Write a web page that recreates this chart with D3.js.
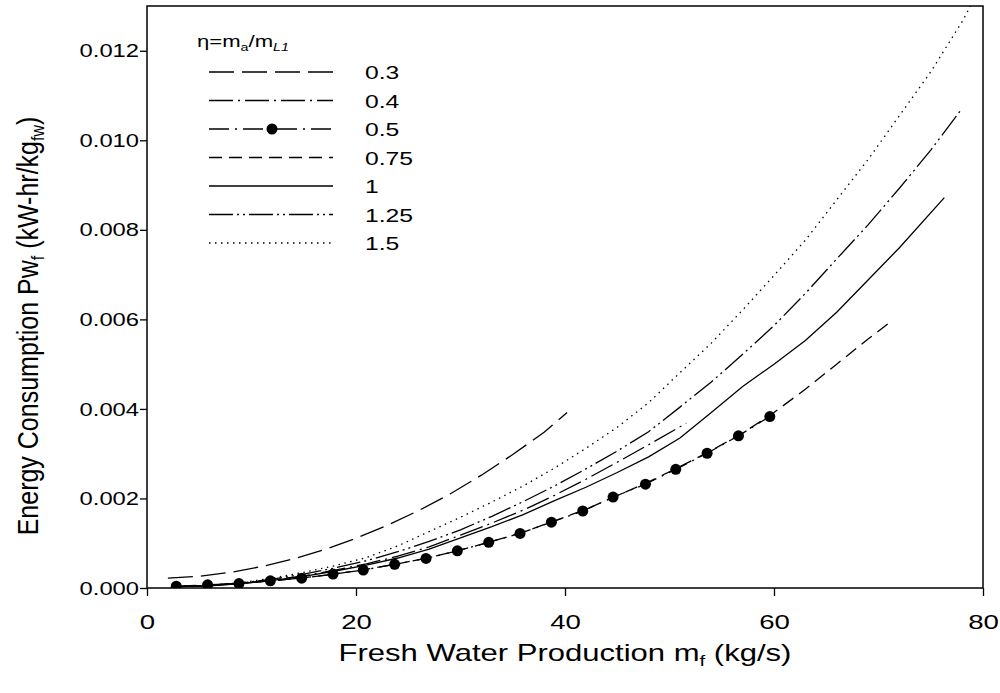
<!DOCTYPE html>
<html>
<head>
<meta charset="utf-8">
<script src="https://cdn.jsdelivr.net/npm/d3@7"></script>
<style>
  html, body { margin: 0; padding: 0; background: #fff; }
  svg { display: block; font-family: "Liberation Sans", Arial, sans-serif; }
</style>
</head>
<body>
<svg id="chart" width="1000" height="693"></svg>
<script>
// ---------- data ----------
const xTicks = [0, 20, 40, 60, 80];
const yTicks = [0, 0.002, 0.004, 0.006, 0.008, 0.010, 0.012];
const legendLabels = ["0.3", "0.4", "0.5", "0.75", "1", "1.25", "1.5"];

const x03 = [2, 5, 8, 11, 14, 17, 20, 23, 26, 29, 32, 35, 38, 40.2];
const y03 = [0.00022, 0.00026, 0.00035, 0.00048, 0.00065, 0.00086, 0.00111, 0.00140, 0.00173, 0.00210, 0.00252, 0.00298, 0.00348, 0.00392];

const x04 = [3, 6, 9, 12, 15, 18, 21, 24, 27, 30, 33, 36, 39, 42, 45, 48, 51.6];
const y04 = [0.00003, 0.00005, 0.00010, 0.00018, 0.00027, 0.00040, 0.00054, 0.00071, 0.00092, 0.00118, 0.00145, 0.00174, 0.00207, 0.00243, 0.00281, 0.00320, 0.00368];

const x05 = [2.8, 5.8, 8.8, 11.8, 14.8, 17.8, 20.7, 23.7, 26.7, 29.7, 32.7, 35.7, 38.7, 41.7, 44.6, 47.7, 50.6, 53.6, 56.6, 59.6];
const y05 = [0.00004, 0.00007, 0.00010, 0.00016, 0.00022, 0.00031, 0.00040, 0.00053, 0.00066, 0.00083, 0.00102, 0.00122, 0.00147, 0.00172, 0.00203, 0.00232, 0.00265, 0.00301, 0.00340, 0.00383];

const x075 = [3, 6, 9, 12, 15, 18, 21, 24, 27, 30, 33, 36, 39, 42, 45, 48, 51, 54, 57, 60, 63, 66, 69, 71];
const y075 = [0.00003, 0.00006, 0.00011, 0.00016, 0.00023, 0.00031, 0.00042, 0.00054, 0.00068, 0.00085, 0.00104, 0.00125, 0.00150, 0.00176, 0.00206, 0.00237, 0.00271, 0.00307, 0.00346, 0.00392, 0.00444, 0.00500, 0.00556, 0.00592];

const x1 = [3, 6, 9, 12, 15, 18, 21, 24, 27, 30, 33, 36, 39, 42, 45, 48, 51, 54, 57, 60, 63, 66, 69, 72, 76.3];
const y1 = [0.00003, 0.00005, 0.00010, 0.00017, 0.00026, 0.00038, 0.00051, 0.00067, 0.00087, 0.00112, 0.00137, 0.00164, 0.00195, 0.00225, 0.00258, 0.00293, 0.00335, 0.00392, 0.00450, 0.00500, 0.00553, 0.00616, 0.00688, 0.00760, 0.00872];

const x125 = [3, 6, 9, 12, 15, 18, 21, 24, 27, 30, 33, 36, 39, 42, 45, 48, 51, 54, 57, 60, 63, 66, 69, 72, 75, 77.8];
const y125 = [0.00003, 0.00006, 0.00011, 0.00020, 0.00031, 0.00045, 0.00061, 0.00081, 0.00104, 0.00130, 0.00160, 0.00193, 0.00228, 0.00266, 0.00306, 0.00349, 0.00404, 0.00460, 0.00522, 0.00586, 0.00658, 0.00735, 0.00811, 0.00893, 0.00978, 0.01065];

const x15 = [3, 6, 9, 12, 15, 18, 21, 24, 27, 30, 33, 36, 39, 42, 45, 48, 51, 54, 57, 60, 63, 66, 69, 72, 75, 78, 79.5];
const y15 = [0.00003, 0.00006, 0.00012, 0.00022, 0.00035, 0.00050, 0.00068, 0.00094, 0.00126, 0.00158, 0.00192, 0.00228, 0.00268, 0.00312, 0.00359, 0.00414, 0.00481, 0.00547, 0.00621, 0.00698, 0.00777, 0.00867, 0.00957, 0.01055, 0.01153, 0.01265, 0.01330];

const seriesX = [x03, x04, x05, x075, x1, x125, x15];
const seriesY = [y03, y04, y05, y075, y1, y125, y15];

// ---------- styles ----------
const dashes = ["25,8", "24,5,2,5", "20,6,2,6", "13,7", null, "24,4,2,4,2,4", "1.5,4.5"];
const hasMarker = [false, false, true, false, false, false, false];
const SX = 1.3; // horizontal stretch of the lettering

// ---------- layout ----------
const L = 147, R = 983, T = 6, B = 588;
const svg = d3.select("#chart");

const x = d3.scaleLinear().domain([0, 80]).range([L, R]);
const y = d3.scaleLinear().domain([0, 0.013]).range([B, T]);

svg.append("defs").append("clipPath").attr("id", "clip")
  .append("rect").attr("x", L).attr("y", T).attr("width", R - L).attr("height", B - T);

// axes
const xAxis = svg.append("g").attr("transform", `translate(0,${B})`)
  .call(d3.axisBottom(x).tickValues(xTicks).tickFormat(d3.format("d")).tickSize(8).tickPadding(6));
const yAxis = svg.append("g").attr("transform", `translate(${L},0)`)
  .call(d3.axisLeft(y).tickValues(yTicks).tickFormat(d3.format(".3f")).tickSize(7).tickPadding(6));
[xAxis, yAxis].forEach(g => {
  g.select(".domain").remove();
  g.selectAll("line").attr("stroke", "#000").attr("stroke-width", 1.3);
  g.selectAll("text").attr("fill", "#000")
    .attr("font-family", "'Liberation Sans', Arial, sans-serif");
});
xAxis.selectAll("text").attr("font-size", 20).attr("y", 0).attr("dy", null)
  .attr("transform", `translate(0,41) scale(1.38,1)`);
yAxis.selectAll("text").attr("font-size", 19).attr("x", 0)
  .attr("transform", `translate(-8,0) scale(1.25,1)`);

// frame
svg.append("rect").attr("x", L).attr("y", T).attr("width", R - L).attr("height", B - T)
  .attr("fill", "none").attr("stroke", "#000").attr("stroke-width", 1.5);

// lines
const plot = svg.append("g").attr("clip-path", "url(#clip)");
seriesX.forEach((xs, i) => {
  const pts = xs.map((v, j) => [v, seriesY[i][j]]);
  const line = d3.line().x(d => x(d[0])).y(d => y(d[1]));
  plot.append("path").datum(pts).attr("d", line)
    .attr("fill", "none").attr("stroke", "#000").attr("stroke-width", 1.3)
    .attr("stroke-dasharray", dashes[i]);
  if (hasMarker[i]) {
    plot.selectAll(null).data(pts).enter().append("circle")
      .attr("cx", d => x(d[0])).attr("cy", d => y(d[1])).attr("r", 5.5).attr("fill", "#000");
  }
});

// legend
const lg = svg.append("g");
const title = lg.append("text").attr("transform", `translate(197,47) scale(${SX},1)`).attr("font-size", 17);
title.append("tspan").text("η=m");
title.append("tspan").attr("font-size", 11).attr("dy", 4).text("a");
title.append("tspan").attr("dy", -4).text("/m");
title.append("tspan").attr("font-size", 11).attr("dy", 4).attr("font-style", "italic").text("L1");

legendLabels.forEach((lab, i) => {
  const yy = 72 + i * 28.5;
  lg.append("line").attr("x1", 209).attr("x2", 333).attr("y1", yy).attr("y2", yy)
    .attr("stroke", "#000").attr("stroke-width", 1.3).attr("stroke-dasharray", dashes[i]);
  if (hasMarker[i]) {
    lg.append("circle").attr("cx", 272).attr("cy", yy).attr("r", 5.5).attr("fill", "#000");
  }
  lg.append("text").attr("transform", `translate(365,${yy + 7}) scale(${SX},1)`)
    .attr("font-size", 19).text(lab);
});

// axis titles
const xt = svg.append("text").attr("transform", `translate(${(L + R) / 2},661) scale(1.35,1)`)
  .attr("text-anchor", "middle").attr("font-size", 23);
xt.append("tspan").text("Fresh Water Production m");
xt.append("tspan").attr("font-size", 15).attr("dy", 5).text("f");
xt.append("tspan").attr("dy", -5).text(" (kg/s)");

const yt = svg.append("text").attr("transform", `translate(38,326) scale(1.2,1) rotate(-90)`)
  .attr("text-anchor", "middle").attr("font-size", 25);
yt.append("tspan").text("Energy Consumption Pw");
yt.append("tspan").attr("font-size", 16).attr("dy", 5).text("f");
yt.append("tspan").attr("dy", -5).text(" (kW-hr/kg");
yt.append("tspan").attr("font-size", 16).attr("dy", 5).text("fw");
yt.append("tspan").attr("dy", -5).text(")");
</script>
</body>
</html>
